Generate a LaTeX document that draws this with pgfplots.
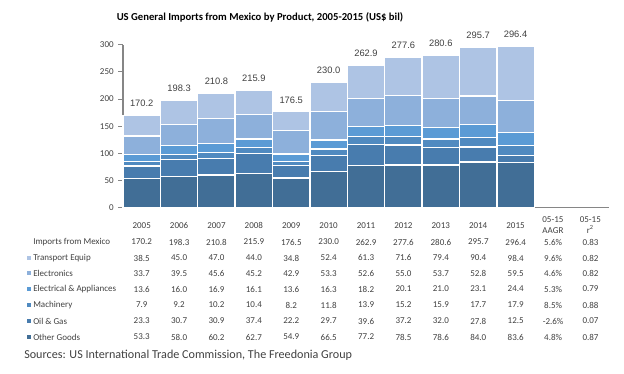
\documentclass[border=0pt]{standalone}
\usepackage{fontspec}
\setmainfont{Carlito}
\newfontfamily\arialf{Liberation Sans}
\usepackage{pgfplots}
\usepackage{pgfplotstable}
\pgfplotsset{compat=1.18}

\definecolor{cOther}{RGB}{65,110,150}
\definecolor{cOil}{RGB}{72,124,174}
\definecolor{cMach}{RGB}{80,138,192}
\definecolor{cElec}{RGB}{91,155,213}
\definecolor{cElectr}{RGB}{141,176,219}
\definecolor{cTrans}{RGB}{174,196,228}
\definecolor{txt}{RGB}{64,64,64}
\definecolor{axgray}{RGB}{134,134,134}

\pgfplotstableread{
x year total transport electronics electrical machinery oil other
0 2005 170.2 38.5 33.7 13.6 7.9 23.3 53.3
1 2006 198.3 45.0 39.5 16.0 9.2 30.7 58.0
2 2007 210.8 47.0 45.6 16.9 10.2 30.9 60.2
3 2008 215.9 44.0 45.2 16.1 10.4 37.4 62.7
4 2009 176.5 34.8 42.9 13.6 8.2 22.2 54.9
5 2010 230.0 52.4 53.3 16.3 11.8 29.7 66.5
6 2011 262.9 61.3 52.6 18.2 13.9 39.6 77.2
7 2012 277.6 71.6 55.0 20.1 15.2 37.2 78.5
8 2013 280.6 79.4 53.7 21.0 15.9 32.0 78.6
9 2014 295.7 90.4 52.8 23.1 17.7 27.8 84.0
10 2015 296.4 98.4 59.5 24.4 17.9 12.5 83.6
}\datatable

\newcommand{\tfont}{\fontsize{6.75}{8}\selectfont}

\begin{document}
\begin{tikzpicture}[x=0.75pt,y=0.75pt]
\path[use as bounding box] (0,0) rectangle (624,374);
\coordinate (axpos) at (123,166.3);

\begin{axis}[
  at={(axpos)}, anchor=south west,
  scale only axis,
  width=364.5pt, height=122.25pt,
  ymin=0, ymax=300,
  xmin=-0.5, xmax=12.5,
  ytick={0,50,...,300},
  xtick={0,...,12},
  xticklabels={2005,2006,2007,2008,2009,2010,2011,2012,2013,2014,2015,{05-15\\AAGR},{05-15\\r\textsuperscript{2}}},
  xticklabel style={anchor=center, yshift=-9.75pt, align=center, font=\tfont, text=txt},
  yticklabel style={font=\tfont, text=txt},
  /pgf/number format/assume math mode=true,
  axis lines*=left,
  axis line style={axgray, line width=0.8pt, -},
  x axis line style={line width=1.1pt},
  tick align=outside,
  ytick style={axgray, line width=0.6pt},
  major tick length=3.5pt,
  xtick style={draw=none},
  ybar stacked,
  bar width=1,
  clip=false,
  every axis plot/.append style={draw=white, line width=1pt},
]
\addplot[fill=cOther] table[x=x, y=other] {\datatable};
\addplot[fill=cOil] table[x=x, y=oil] {\datatable};
\addplot[fill=cMach] table[x=x, y=machinery] {\datatable};
\addplot[fill=cElec] table[x=x, y=electrical] {\datatable};
\addplot[fill=cElectr] table[x=x, y=electronics] {\datatable};
\addplot[fill=cTrans] table[x=x, y=transport] {\datatable};
\foreach \i/\t in {0/170.2,1/198.3,2/210.8,3/215.9,4/176.5,5/230.0,6/262.9,7/277.6,8/280.6,9/295.7,10/296.4}{
  \edef\temp{\noexpand\node[anchor=center, yshift=9pt, font=\noexpand\arialf\noexpand\fontsize{7}{8}\noexpand\selectfont, text=txt] at (axis cs:\i,\t) {\t};}
  \temp
}
\end{axis}

% title
\node[font=\bfseries\fontsize{8}{10}\selectfont] at (260,357) {US General Imports from Mexico by Product, 2005-2015 (US\$ bil)};

% table
\begin{scope}[every node/.style={font=\tfont, text=txt, inner sep=0pt}]
\node[anchor=west] at (33,132) {Imports from Mexico};
\foreach \lab/\col/\py in {Transport Equip/cTrans/258, Electronics/cElectr/273.5, Electrical \& Appliances/cElec/289, Machinery/cMach/305, Oil \& Gas/cOil/321, Other Goods/cOther/337}{
  \fill[\col] (26.7,{374-\py-2}) rectangle ++(4,4);
  \node[anchor=west] at (33,{374-\py}) {\lab};
}
\foreach \py/\vals in {
  242/{170.2,198.3,210.8,215.9,176.5,230.0,262.9,277.6,280.6,295.7,296.4,5.6\%,0.83},
  258/{38.5,45.0,47.0,44.0,34.8,52.4,61.3,71.6,79.4,90.4,98.4,9.6\%,0.82},
  273.5/{33.7,39.5,45.6,45.2,42.9,53.3,52.6,55.0,53.7,52.8,59.5,4.6\%,0.82},
  289/{13.6,16.0,16.9,16.1,13.6,16.3,18.2,20.1,21.0,23.1,24.4,5.3\%,0.79},
  305/{7.9,9.2,10.2,10.4,8.2,11.8,13.9,15.2,15.9,17.7,17.9,8.5\%,0.88},
  321/{23.3,30.7,30.9,37.4,22.2,29.7,39.6,37.2,32.0,27.8,12.5,-2.6\%,0.07},
  337/{53.3,58.0,60.2,62.7,54.9,66.5,77.2,78.5,78.6,84.0,83.6,4.8\%,0.87}}{
  \foreach \v [count=\i from 0] in \vals {
    \node at ({141.7+37.4*\i},{374-\py}) {\v};
  }
}
\end{scope}

\node[anchor=west, inner sep=0pt, font=\fontsize{9.1}{11}\selectfont, text=txt] at (24,19) {Sources: US International Trade Commission, The Freedonia Group};
\end{tikzpicture}
\end{document}
